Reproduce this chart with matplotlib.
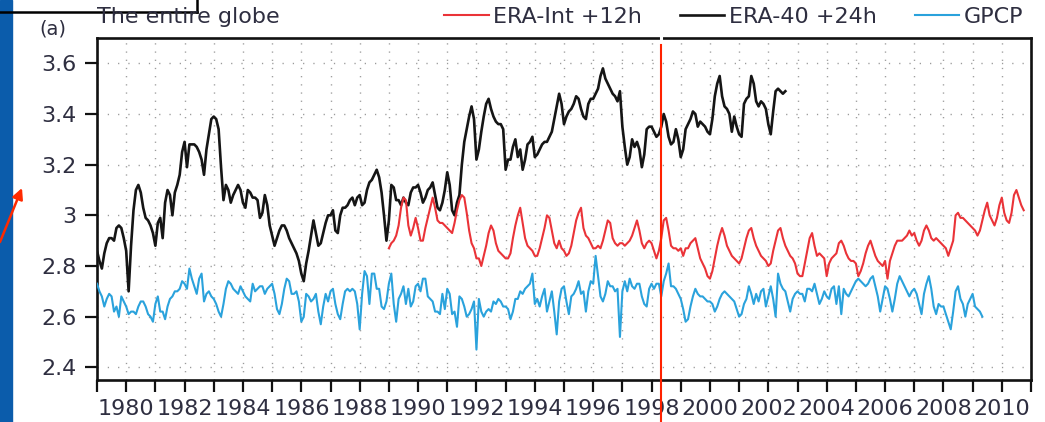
import numpy as np
import matplotlib
matplotlib.use("Agg")
import matplotlib.pyplot as plt
from matplotlib.lines import Line2D
from matplotlib.patches import Rectangle, FancyArrowPatch

# monthly global-mean precipitation (mm/day), one row per year
era40_start = 1979
era40 = [
    2.86, 2.82, 2.79, 2.85, 2.89, 2.91, 2.91, 2.90, 2.95, 2.96, 2.95, 2.91,
    2.86, 2.70, 2.88, 3.02, 3.10, 3.12, 3.09, 3.03, 2.99, 2.98, 2.96, 2.93,
    2.88, 2.97, 2.99, 2.91, 3.05, 3.10, 3.08, 3.00, 3.09, 3.12, 3.16, 3.25,
    3.29, 3.19, 3.28, 3.28, 3.28, 3.27, 3.25, 3.22, 3.16, 3.26, 3.32, 3.38,
    3.39, 3.38, 3.34, 3.19, 3.06, 3.12, 3.10, 3.05, 3.08, 3.10, 3.12, 3.10,
    3.05, 3.03, 3.10, 3.09, 3.07, 3.07, 3.06, 2.99, 3.01, 3.08, 3.04, 2.96,
    2.92, 2.88, 2.91, 2.94, 2.96, 2.96, 2.94, 2.91, 2.89, 2.87, 2.85, 2.82,
    2.77, 2.74, 2.81, 2.86, 2.92, 2.98, 2.93, 2.88, 2.89, 2.93, 2.97, 3.00,
    3.00, 3.02, 2.94, 2.93, 3.00, 3.03, 3.03, 3.04, 3.06, 3.07, 3.04, 3.07,
    3.08, 3.04, 3.05, 3.10, 3.13, 3.14, 3.16, 3.18, 3.15, 3.09, 3.00, 2.90,
    2.98, 3.12, 3.11, 3.06, 3.06, 3.04, 3.07, 3.05, 3.04, 3.09, 3.11, 3.11,
    3.12, 3.09, 3.05, 3.07, 3.10, 3.11, 3.13, 3.08, 3.03, 3.02, 3.05, 3.10,
    3.17, 3.12, 3.02, 3.00, 3.05, 3.08, 3.20, 3.29, 3.34, 3.39, 3.43, 3.38,
    3.22, 3.26, 3.33, 3.39, 3.44, 3.46, 3.42, 3.39, 3.37, 3.36, 3.36, 3.34,
    3.18, 3.22, 3.22, 3.27, 3.30, 3.23, 3.26, 3.18, 3.22, 3.28, 3.29, 3.31,
    3.23, 3.24, 3.26, 3.28, 3.29, 3.29, 3.31, 3.33, 3.38, 3.43, 3.48, 3.44,
    3.36, 3.39, 3.41, 3.42, 3.44, 3.47, 3.46, 3.42, 3.39, 3.38, 3.44, 3.46,
    3.46, 3.48, 3.50, 3.55, 3.58, 3.54, 3.52, 3.50, 3.48, 3.47, 3.45, 3.49,
    3.35, 3.27, 3.20, 3.23, 3.30, 3.27, 3.29, 3.26, 3.19, 3.24, 3.34, 3.35,
    3.35, 3.33, 3.31, 3.32, 3.35, 3.40, 3.37, 3.31, 3.28, 3.29, 3.34, 3.30,
    3.23, 3.26, 3.34, 3.36, 3.38, 3.41, 3.40, 3.35, 3.37, 3.36, 3.35, 3.33,
    3.32, 3.38, 3.47, 3.52, 3.55, 3.47, 3.43, 3.42, 3.40, 3.33, 3.39, 3.35,
    3.32, 3.31, 3.44, 3.46, 3.47, 3.55, 3.52, 3.45, 3.43, 3.45, 3.44, 3.42,
    3.36, 3.32, 3.41, 3.49, 3.50, 3.49, 3.48, 3.49,
]

eraint_start = 1989
eraint = [
    2.87, 2.89, 2.90, 2.92, 2.96, 3.03, 3.07, 3.06, 2.96, 2.92, 2.95, 2.99,
    2.95, 2.90, 2.90, 2.95, 2.99, 3.03, 3.07, 3.03, 2.98, 2.97, 2.97, 2.96,
    2.95, 2.94, 2.93, 2.97, 3.02, 3.06, 3.08, 3.07, 3.01, 2.94, 2.89, 2.87,
    2.83, 2.83, 2.80, 2.84, 2.88, 2.93, 2.96, 2.94, 2.89, 2.86, 2.85, 2.84,
    2.83, 2.83, 2.85, 2.91, 2.96, 3.00, 3.03, 2.97, 2.91, 2.88, 2.87, 2.86,
    2.84, 2.84, 2.87, 2.91, 2.95, 3.00, 2.99, 2.94, 2.89, 2.87, 2.90, 2.87,
    2.86, 2.84, 2.85, 2.88, 2.93, 2.98, 3.01, 3.03, 2.95, 2.92, 2.91, 2.89,
    2.87, 2.87, 2.88, 2.87, 2.90, 2.94, 2.98, 2.97, 2.91, 2.89, 2.88, 2.89,
    2.89, 2.88, 2.89, 2.90, 2.92, 2.95, 2.98, 2.94, 2.89, 2.87, 2.89, 2.90,
    2.89, 2.86, 2.83, 2.86, 2.91, 2.98, 2.99, 2.94, 2.88, 2.87, 2.87, 2.86,
    2.87, 2.84, 2.87, 2.87, 2.89, 2.90, 2.91, 2.87, 2.83, 2.81, 2.79, 2.76,
    2.75, 2.78, 2.83, 2.88, 2.92, 2.95, 2.92, 2.88, 2.86, 2.84, 2.83, 2.82,
    2.81, 2.83, 2.87, 2.91, 2.94, 2.95, 2.91, 2.88, 2.86, 2.84, 2.83, 2.82,
    2.80, 2.81, 2.86, 2.90, 2.94, 2.95, 2.91, 2.88, 2.86, 2.84, 2.83, 2.81,
    2.77, 2.76, 2.76, 2.81, 2.86, 2.91, 2.93, 2.88, 2.84, 2.85, 2.84, 2.83,
    2.76, 2.81, 2.83, 2.84, 2.85, 2.89, 2.90, 2.88, 2.85, 2.83, 2.82, 2.82,
    2.81, 2.76, 2.78, 2.81, 2.85, 2.88, 2.90, 2.87, 2.84, 2.82, 2.81, 2.80,
    2.82, 2.75, 2.82, 2.85, 2.88, 2.90, 2.90, 2.90, 2.91, 2.92, 2.94, 2.92,
    2.93, 2.90, 2.88, 2.90, 2.94, 2.96, 2.94, 2.91, 2.90, 2.91, 2.90, 2.89,
    2.88, 2.87, 2.84, 2.87, 2.90, 3.00, 3.01, 2.99, 2.99, 2.98, 2.97, 2.96,
    2.95, 2.94, 2.92, 2.94, 2.98, 3.02, 3.05, 3.00, 2.98, 2.96, 2.99, 3.04,
    3.07, 3.01, 2.98, 2.97, 3.01, 3.08, 3.10, 3.07, 3.04, 3.02,
]

gpcp_start = 1979
gpcp = [
    2.73, 2.70, 2.68, 2.64, 2.67, 2.69, 2.68, 2.62, 2.64, 2.60, 2.68, 2.66,
    2.64, 2.61, 2.62, 2.62, 2.61, 2.64, 2.66, 2.66, 2.64, 2.61, 2.60, 2.58,
    2.65, 2.68, 2.62, 2.62, 2.59, 2.64, 2.67, 2.68, 2.70, 2.70, 2.71, 2.74,
    2.73, 2.71, 2.79, 2.75, 2.72, 2.69, 2.75, 2.77, 2.66, 2.69, 2.70, 2.68,
    2.67, 2.65, 2.62, 2.60, 2.65, 2.71, 2.74, 2.73, 2.71, 2.70, 2.69, 2.72,
    2.70, 2.68, 2.67, 2.66, 2.73, 2.70, 2.71, 2.72, 2.72, 2.69, 2.71, 2.72,
    2.73, 2.69, 2.63, 2.61, 2.65, 2.71, 2.75, 2.74, 2.69, 2.69, 2.70, 2.66,
    2.58, 2.60, 2.69, 2.68, 2.66, 2.67, 2.69, 2.62, 2.57, 2.64, 2.69, 2.66,
    2.70, 2.71, 2.65, 2.61, 2.59, 2.65, 2.70, 2.71, 2.70, 2.71, 2.70, 2.65,
    2.55, 2.69, 2.78, 2.76, 2.65, 2.77, 2.77, 2.71, 2.71, 2.64, 2.63, 2.66,
    2.73, 2.77, 2.65, 2.58, 2.67, 2.69, 2.72, 2.65, 2.71, 2.64, 2.66, 2.72,
    2.73, 2.70, 2.75, 2.75, 2.68, 2.67, 2.66, 2.62, 2.62, 2.61, 2.69, 2.63,
    2.71, 2.69, 2.61, 2.62, 2.56, 2.68, 2.67, 2.64, 2.60, 2.61, 2.63, 2.66,
    2.47, 2.67, 2.62, 2.60, 2.62, 2.63, 2.62, 2.66, 2.65, 2.67, 2.66, 2.64,
    2.64, 2.63, 2.59, 2.62, 2.67, 2.67, 2.70, 2.69, 2.71, 2.72, 2.73, 2.77,
    2.65, 2.67, 2.64, 2.68, 2.71, 2.62, 2.66, 2.70, 2.62, 2.53, 2.66, 2.71,
    2.72, 2.66, 2.61, 2.68, 2.69, 2.71, 2.74, 2.69, 2.70, 2.62, 2.70, 2.74,
    2.73, 2.84, 2.76, 2.68, 2.66, 2.69, 2.74, 2.72, 2.72, 2.70, 2.71, 2.52,
    2.70, 2.74, 2.70, 2.75, 2.72, 2.71, 2.73, 2.73, 2.68, 2.65, 2.64, 2.71,
    2.73, 2.71, 2.73, 2.73, 2.68, 2.74, 2.77, 2.81, 2.72, 2.72, 2.71, 2.69,
    2.67, 2.63, 2.58, 2.59, 2.64, 2.68, 2.71, 2.69, 2.68, 2.68, 2.67, 2.66,
    2.66, 2.65, 2.62, 2.64, 2.67, 2.69, 2.70, 2.69, 2.68, 2.67, 2.66, 2.63,
    2.60, 2.61, 2.65, 2.67, 2.72, 2.69, 2.65, 2.69, 2.66, 2.70, 2.71, 2.64,
    2.68, 2.72, 2.67, 2.60, 2.77, 2.73, 2.71, 2.70, 2.66, 2.62, 2.67, 2.69,
    2.70, 2.69, 2.69, 2.66, 2.71, 2.71, 2.70, 2.73, 2.69, 2.65, 2.67, 2.70,
    2.68, 2.67, 2.71, 2.72, 2.65, 2.72, 2.61, 2.71, 2.69, 2.68, 2.70, 2.72,
    2.74, 2.75, 2.74, 2.73, 2.72, 2.73, 2.75, 2.76, 2.72, 2.68, 2.62, 2.67,
    2.72, 2.71, 2.67, 2.62, 2.67, 2.73, 2.76, 2.74, 2.72, 2.70, 2.68, 2.70,
    2.71, 2.69, 2.65, 2.61, 2.69, 2.73, 2.76, 2.71, 2.64, 2.61, 2.65, 2.64,
    2.64, 2.61, 2.58, 2.55, 2.62, 2.70, 2.72, 2.67, 2.65, 2.60, 2.65, 2.67,
    2.69, 2.64, 2.63, 2.62, 2.60,
]

years = np.arange(1979, 2012)
yticks = [2.4, 2.6, 2.8, 3.0, 3.2, 3.4, 3.6]
ytick_labels = ["2.4", "2.6", "2.8", "3", "3.2", "3.4", "3.6"]

txt = "#2e2e40"
plt.rcParams["font.family"] = ["DejaVu Sans"]

W, H = 1045, 422
fig = plt.figure(figsize=(W / 100, H / 100), dpi=100)
fig.patch.set_facecolor("white")
ax = fig.add_axes([97 / W, 1 - 380 / H, (1031 - 97) / W, (380 - 38) / H])


def months(start, vals):
    return start + np.arange(len(vals)) / 12.0


ax.plot(months(era40_start, era40), era40, color="#151515", lw=1.9, label="ERA-40 +24h", zorder=3)
ax.plot(months(gpcp_start, gpcp), gpcp, color="#2aa2dc", lw=1.5, label="GPCP", zorder=3)
ax.plot(months(eraint_start, eraint), eraint, color="#ea3338", lw=1.5, label="ERA-Int +12h", zorder=4)

ax.set_xlim(1979, 2011)
ax.set_ylim(2.35, 3.70)
ax.set_xticks(years)
ax.set_xticklabels([str(y) if (y % 2 == 0 and 1980 <= y <= 2010) else "" for y in years])
ax.set_yticks(yticks)
ax.set_yticklabels(ytick_labels)
ax.tick_params(direction="out", length=8.5, width=1.6, color="#111111",
               labelsize=16, labelcolor=txt)
ax.tick_params(axis="y", pad=6)
ax.tick_params(axis="x", pad=5)
for s in ax.spines.values():
    s.set_linewidth(1.9)
    s.set_color("#111111")

# dotted grid, one column per year
ax.grid(axis="x", color="#9a9a9a", lw=1.0, linestyle=(0, (0.9, 5.0)), zorder=0)
ax.grid(axis="y", color="#9a9a9a", lw=1.0, linestyle=(0, (0.9, 6.5)), zorder=0)
ax.set_axisbelow(True)

# legend row above the plot
h, l = ax.get_legend_handles_labels()
order = [2, 0, 1]
fig.legend([h[i] for i in order], [l[i] for i in order], loc="center right",
           bbox_to_anchor=(1034 / W, 1 - 17 / H), ncol=3, frameon=False,
           fontsize=16, handlelength=2.0, handletextpad=0.2, columnspacing=1.7,
           borderpad=0, labelcolor=txt)

fig.text(97 / W, 1 - 17 / H, "The entire globe", fontsize=16, color=txt,
         ha="left", va="center")
fig.text(53 / W, 1 - 29 / H, "(a)", fontsize=14, color=txt, ha="center", va="center")

# slide decorations around the figure
fig.patches.append(Rectangle((0, 0), 12 / W, 1, transform=fig.transFigure,
                             color="#0b5cab", zorder=0))
fig.lines.append(Line2D([0, 197 / W], [1 - 12 / H, 1 - 12 / H], transform=fig.transFigure,
                        color="black", lw=1.8))
fig.lines.append(Line2D([197 / W, 197 / W], [1, 1 - 12 / H], transform=fig.transFigure,
                        color="black", lw=1.8))
fig.lines.append(Line2D([661 / W, 661 / W], [1, 1 - 45 / H], transform=fig.transFigure,
                        color="white", lw=2.2, zorder=10))
fig.lines.append(Line2D([661 / W, 661 / W], [1 - 45 / H, 0], transform=fig.transFigure,
                        color="#ff2200", lw=1.5, zorder=10))
fig.patches.append(FancyArrowPatch((0, 1 - 242 / H), (22 / W, 1 - 188 / H),
                                   transform=fig.transFigure, arrowstyle="-|>",
                                   mutation_scale=16, color="#ff2a00", lw=1.8,
                                   shrinkA=0, shrinkB=0, zorder=5))

fig.savefig("out.png", dpi=100)
